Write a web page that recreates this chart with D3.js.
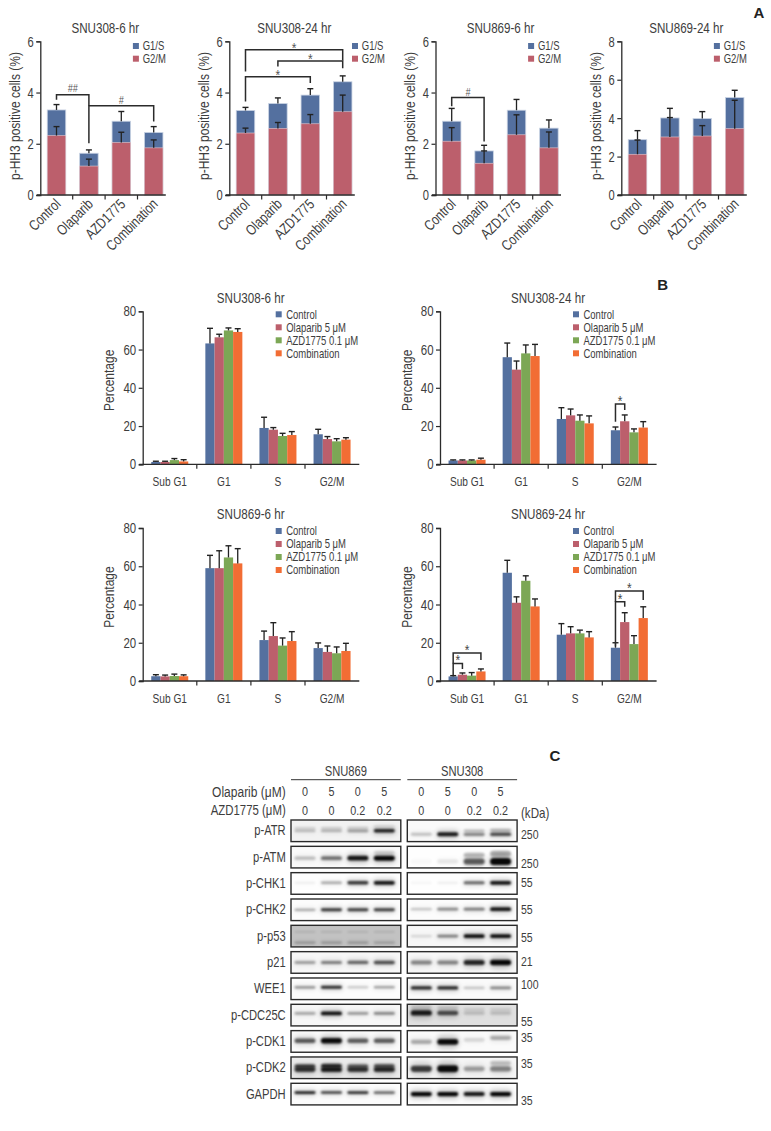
<!DOCTYPE html>
<html><head><meta charset="utf-8">
<script src="https://cdn.jsdelivr.net/npm/d3@7/dist/d3.min.js"></script>
<style>
html,body{margin:0;background:#fff}
svg{display:block}
text{font-family:"Liberation Sans",sans-serif}
</style></head><body>
<svg id="c" width="771" height="1131"></svg>
<script>
// ---------- Panel A data ----------
const aCategories = ["Control","Olaparib","AZD1775","Combination"];
const aLegend = ["G1/S","G2/M"];
const a308_6_g2m = [2.32,1.13,2.05,1.84];
const a308_6_g2mErr = [2.67,1.40,2.45,2.15];
const a308_6_total = [3.32,1.63,2.88,2.44];
const a308_6_totalErr = [3.53,1.76,3.26,2.67];
const a308_24_g2m = [2.42,2.60,2.78,3.25];
const a308_24_g2mErr = [2.61,2.83,3.14,3.90];
const a308_24_total = [3.30,3.57,3.90,4.42];
const a308_24_totalErr = [3.42,3.79,4.15,4.65];
const a869_6_g2m = [2.10,1.24,2.35,1.84];
const a869_6_g2mErr = [2.63,1.72,3.13,2.46];
const a869_6_total = [2.88,1.72,3.31,2.61];
const a869_6_totalErr = [3.38,1.94,3.73,2.93];
const a869_24_g2m = [2.12,3.02,3.07,3.45];
const a869_24_g2mErr = [2.86,4.03,3.61,4.93];
const a869_24_total = [2.88,4.01,3.98,5.07];
const a869_24_totalErr = [3.35,4.51,4.34,5.45];
// [from cat, to cat, top, left leg bottom, right leg bottom, label, label value]
const a308_6_sig = [[0,1,3.91,3.72,3.48,"##",4.16],[1,3,3.48,2.02,2.87,"#",3.72]];
const a308_24_sig = [[0,3,5.67,4.82,5.25,"*",5.76],[1,3,5.23,5.02,4.95,"*",5.33],[0,2,4.62,3.65,4.37,"*",4.71]];
const a869_6_sig = [[0,1,3.81,3.46,2.09,"#",4.02]];
// ---------- Panel B data ----------
const bCategories = ["Sub G1","G1","S","G2/M"];
const bLegend = ["Control","Olaparib 5 μM","AZD1775 0.1 μM","Combination"];
const b308_6_control = [1.2,63.2,19.0,15.7];
const b308_6_olaparib = [1.2,66.4,18.1,13.2];
const b308_6_azd = [2.2,70.0,14.8,12.0];
const b308_6_combo = [1.5,69.2,15.3,12.9];
const b308_6_controlErr = [1.6,71.1,24.6,18.3];
const b308_6_olaparibErr = [1.6,68.0,19.2,14.5];
const b308_6_azdErr = [3.0,71.3,16.2,13.4];
const b308_6_comboErr = [2.4,70.9,17.1,13.9];
const b308_24_control = [2.0,56.0,23.7,17.8];
const b308_24_olaparib = [2.0,49.5,25.6,22.5];
const b308_24_azd = [2.0,58.0,22.8,16.7];
const b308_24_combo = [2.4,56.6,21.4,19.2];
const b308_24_controlErr = [2.3,63.4,29.6,19.5];
const b308_24_olaparibErr = [2.3,54.0,28.9,25.8];
const b308_24_azdErr = [2.3,62.4,25.8,18.5];
const b308_24_comboErr = [3.2,62.7,25.3,22.3];
const b869_6_control = [2.5,59.0,21.4,17.2];
const b869_6_olaparib = [2.4,59.0,23.5,15.2];
const b869_6_azd = [2.6,64.6,18.5,14.5];
const b869_6_combo = [2.5,61.5,20.9,15.7];
const b869_6_controlErr = [3.3,65.7,26.1,19.9];
const b869_6_olaparibErr = [3.1,68.1,30.5,18.3];
const b869_6_azdErr = [3.6,70.7,22.5,17.8];
const b869_6_comboErr = [3.2,69.2,25.8,19.7];
const b869_24_control = [2.4,56.6,24.2,17.4];
const b869_24_olaparib = [3.3,40.9,24.9,30.8];
const b869_24_azd = [2.8,52.4,24.9,19.3];
const b869_24_combo = [5.0,39.0,22.8,32.9];
const b869_24_controlErr = [2.8,63.1,30.0,20.0];
const b869_24_olaparibErr = [4.2,44.0,28.4,35.7];
const b869_24_azdErr = [4.4,55.0,26.6,23.7];
const b869_24_comboErr = [6.3,42.9,25.8,38.8];
// [category, from series, to series, top, left bottom, right bottom, label value]
const b308_24_sig = [[3,0,1,31.5,22.3,28.4,33.2]];
const b869_24_sig = [[0,0,1,9.2,3.1,6.3,10.9],[0,0,3,14.6,9.2,11.0,16.3],[3,0,1,41.5,18,38.8,43.2],[3,0,3,47,41.5,42.3,48.7]];
// ---------- Panel C data (band darkness per lane, read by eye) ----------
const cCellLines = ["SNU869","SNU308"];
const cOlaparib = ["0","5","0","5"];
const cAzd = ["0","0","0.2","0.2"];
const cProteins = ["p-ATR","p-ATM","p-CHK1","p-CHK2","p-p53","p21","WEE1","p-CDC25C","p-CDK1","p-CDK2","GAPDH"];
const cKda = ["250","250","55","55","55","21","100","55","35","35","35"];
const cLeftDark = [[.22,.25,.33,.85],[.22,.5,.9,.97],[.05,.3,.75,.9],[.3,.75,.72,.72],[.22,.22,.22,.18],[.32,.45,.55,.65],[.42,.8,.2,.38],[.3,.92,.35,.42],[.6,.95,.58,.58],[.75,.85,.75,.8],[.85,.72,.78,.62]];
const cRightDark = [[.2,.88,.42,.65],[.02,.08,.6,.97],[.03,.05,.55,.9],[.2,.42,.48,.9],[.12,.45,.92,.92],[.42,.42,.82,.97],[.82,.82,.2,.42],[.88,.65,.15,.15],[.28,.95,.12,.28],[.72,.95,.32,.42],[.97,.97,.88,.97]];
const cLeftUpper = [[.12,.14,.14,.08],[0,0,0,.12],[0,0,0,0],[0,0,0,0],[.1,.1,.1,.1],[0,0,0,0],[0,0,0,0],[0,0,0,0],[0,0,0,0],[.7,.8,.55,.6],[0,0,0,0]];
const cRightUpper = [[0,0,.22,.25],[0,0,.25,.3],[0,0,0,0],[0,0,0,0],[0,0,0,0],[0,0,0,0],[0,0,0,0],[.1,.1,.1,.1],[0,0,0,0],[0,0,0,.2],[0,0,0,0]];
// ---------- Layout / style (not data) ----------
const colBlue="#54709f", colRed="#bc5f6c", colGreen="#7ca755", colOrange="#f26d34", ink="#2b2b2b", soft="#3d3d3d";
const CONDENSE=0.8;
const svg=d3.select("#c");
const f=(s,size,extra={})=>{Object.entries({"font-size":size,...extra}).forEach(([k,v])=>s.attr(k,v));return s;};

function axes(g,x,y,ticks,endX,left,tickFont,tickC){
  const [y0]=y.range();
  const ya=d3.axisLeft(y).tickValues(ticks).tickFormat(d3.format("d")).tickSize(4).tickPadding(2.5);
  const gy=g.append("g").attr("transform",`translate(${left},0)`).call(ya);
  gy.select(".domain").attr("stroke",ink).attr("stroke-width",1.3);
  gy.selectAll("line").attr("stroke",ink).attr("stroke-width",1.2);
  gy.selectAll("text").attr("font-size",tickFont).attr("fill",soft).attr("font-family",null).attr("data-c",tickC);
  const gx=g.append("g").attr("transform",`translate(0,${y0})`);
  gx.append("line").attr("x1",left-3.5).attr("x2",endX).attr("stroke",ink).attr("stroke-width",1.3);
  x.domain().slice(1).forEach(c=>gx.append("line").attr("x1",x(c)).attr("x2",x(c)).attr("y2",4.5).attr("stroke",ink).attr("stroke-width",1.2));
}
function errBar(g,cx,yFrom,yTo,cap){
  g.append("line").attr("x1",cx).attr("x2",cx).attr("y1",yFrom).attr("y2",yTo).attr("stroke","#222").attr("stroke-width",1.3);
  g.append("line").attr("x1",cx-cap).attr("x2",cx+cap).attr("y1",yTo).attr("y2",yTo).attr("stroke","#222").attr("stroke-width",1.4);
}
function bracket(g,xl,xr,yTop,yL,yR,sw=1.5){
  g.append("path").attr("d",d3.line()([[xl,yL],[xl,yTop],[xr,yTop],[xr,yR]])).attr("fill","none").attr("stroke",ink).attr("stroke-width",sw);
}
function chartA(opt){
  const g=svg.append("g");
  const x=d3.scaleBand().domain(aCategories).range([opt.left,opt.left+4*32.4]);
  const y=d3.scaleLinear().domain([0,opt.max]).range([195,41.3]);
  const w=18.5;
  const bx=c=>x(c)+x.bandwidth()/2;
  aCategories.forEach((c,i)=>{
    g.append("rect").attr("x",bx(c)-w/2).attr("width",w).attr("y",y(opt.total[i])).attr("height",y(0)-y(opt.total[i])).attr("fill",colBlue).attr("stroke","#c9d3e3").attr("stroke-width",.8);
    g.append("rect").attr("x",bx(c)-w/2).attr("width",w).attr("y",y(opt.g2m[i])).attr("height",y(0)-y(opt.g2m[i])).attr("fill",colRed).attr("stroke","#e3c9cf").attr("stroke-width",.6);
    errBar(g,bx(c),y(opt.total[i]),y(opt.totalErr[i]),3);
    errBar(g,bx(c),y(opt.g2m[i]),y(opt.g2mErr[i]),3);
  });
  axes(g,x,y,opt.ticks,opt.left+125.5,opt.left,15.5,.72);
  aCategories.forEach(c=>{
    f(g.append("text").attr("text-anchor","end").attr("transform",`translate(${bx(c)+5},205) rotate(-45)`).text(c),14.7,{fill:soft});
  });
  f(g.append("text").attr("text-anchor","middle").attr("transform",`translate(${opt.left-26},116) rotate(-90)`).attr("dy","0.35em").text("p-HH3 positive cells (%)"),15,{fill:soft});
  f(g.append("text").attr("text-anchor","middle").attr("x",opt.left+65).attr("y",33).text(opt.title),14.5,{fill:soft});
  aLegend.forEach((t,i)=>{
    const ly=46+i*12.7, lx=opt.left+(opt.legendDx||92.6);
    g.append("rect").attr("x",lx).attr("y",ly-3).attr("width",6).attr("height",6).attr("fill",i?colRed:colBlue);
    f(g.append("text").attr("x",lx+9.8).attr("y",ly).attr("dy","0.35em").text(t),12.5,{fill:soft,"data-c":.76});
  });
  (opt.sig||[]).forEach(s=>{
    const xl=bx(aCategories[s[0]]),xr=bx(aCategories[s[1]]);
    bracket(g,xl,xr,y(s[2]),y(s[3]),y(s[4]));
    f(g.append("text").attr("text-anchor","middle").attr("x",(xl+xr)/2).attr("y",y(s[6])).attr("dy","0.35em").text(s[5]),s[5]==="*"?15:11,{"font-style":s[5]==="*"?"normal":"italic",fill:"#555"});
  });
}
function chartB(opt){
  const g=svg.append("g");
  const x=d3.scaleBand().domain(bCategories).range([opt.left,opt.left+4*54.1]);
  const y=d3.scaleLinear().domain([0,80]).range([opt.y0,opt.y0-153]);
  const sub=d3.scaleBand().domain(d3.range(4)).range([0,37]);
  const xs=(c,s)=>x(c)+(x.bandwidth()-37)/2+sub(s);
  const cols=[colBlue,colRed,colGreen,colOrange];
  opt.vals.forEach((vals,s)=>{
    bCategories.forEach((c,i)=>{
      g.append("rect").attr("x",xs(c,s)).attr("width",sub.bandwidth()).attr("y",y(vals[i])).attr("height",y(0)-y(vals[i])).attr("fill",cols[s]);
      errBar(g,xs(c,s)+sub.bandwidth()/2,y(vals[i]),y(opt.errs[s][i]),3);
    });
  });
  axes(g,x,y,[0,20,40,60,80],opt.left+216.6,opt.left,14.5,.79);
  bCategories.forEach(c=>{
    f(g.append("text").attr("text-anchor","middle").attr("x",x(c)+x.bandwidth()/2).attr("y",opt.y0+17.5).attr("dy","0.35em").text(c),13,{fill:soft,"data-c":.78});
  });
  f(g.append("text").attr("text-anchor","middle").attr("transform",`translate(${opt.left-33.5},${opt.y0-84}) rotate(-90)`).attr("dy","0.35em").text("Percentage"),15,{fill:soft});
  f(g.append("text").attr("text-anchor","middle").attr("x",opt.left+108).attr("y",opt.y0-161.5).text(opt.title),14.5,{fill:soft});
  bLegend.forEach((t,i)=>{
    const ly=opt.y0-150+i*13;
    g.append("rect").attr("x",opt.left+133).attr("y",ly-3).attr("width",6).attr("height",6).attr("fill",cols[i]);
    f(g.append("text").attr("x",opt.left+143.5).attr("y",ly).attr("dy","0.35em").text(t),12.5,{fill:soft,"data-c":.76});
  });
  (opt.sig||[]).forEach(s=>{
    const c=bCategories[s[0]];
    const xl=xs(c,s[1])+sub.bandwidth()/2, xr=xs(c,s[2])+sub.bandwidth()/2;
    bracket(g,xl,xr,y(s[3]),y(s[4]),y(s[5]));
    f(g.append("text").attr("text-anchor","middle").attr("x",(xl+xr)/2).attr("y",y(s[6])).attr("dy","0.35em").text("*"),15,{fill:"#444"});
  });
}
chartA({left:40.3,max:6,ticks:[0,2,4,6],title:"SNU308-6 hr",g2m:a308_6_g2m,g2mErr:a308_6_g2mErr,total:a308_6_total,totalErr:a308_6_totalErr,sig:a308_6_sig});
chartA({left:229.3,max:6,ticks:[0,2,4,6],title:"SNU308-24 hr",legendDx:122.7,g2m:a308_24_g2m,g2mErr:a308_24_g2mErr,total:a308_24_total,totalErr:a308_24_totalErr,sig:a308_24_sig});
chartA({left:435.5,max:6,ticks:[0,2,4,6],title:"SNU869-6 hr",g2m:a869_6_g2m,g2mErr:a869_6_g2mErr,total:a869_6_total,totalErr:a869_6_totalErr,sig:a869_6_sig});
chartA({left:621.3,max:8,ticks:[0,2,4,6,8],title:"SNU869-24 hr",g2m:a869_24_g2m,g2mErr:a869_24_g2mErr,total:a869_24_total,totalErr:a869_24_totalErr});
chartB({left:142.7,y0:464.3,title:"SNU308-6 hr",vals:[b308_6_control,b308_6_olaparib,b308_6_azd,b308_6_combo],errs:[b308_6_controlErr,b308_6_olaparibErr,b308_6_azdErr,b308_6_comboErr]});
chartB({left:440,y0:464.3,title:"SNU308-24 hr",vals:[b308_24_control,b308_24_olaparib,b308_24_azd,b308_24_combo],errs:[b308_24_controlErr,b308_24_olaparibErr,b308_24_azdErr,b308_24_comboErr],sig:b308_24_sig});
chartB({left:142.7,y0:681,title:"SNU869-6 hr",vals:[b869_6_control,b869_6_olaparib,b869_6_azd,b869_6_combo],errs:[b869_6_controlErr,b869_6_olaparibErr,b869_6_azdErr,b869_6_comboErr]});
chartB({left:440,y0:681,title:"SNU869-24 hr",vals:[b869_24_control,b869_24_olaparib,b869_24_azd,b869_24_combo],errs:[b869_24_controlErr,b869_24_olaparibErr,b869_24_azdErr,b869_24_comboErr],sig:b869_24_sig});

// panel letters
[["A",759,13],["B",662.7,285],["C",555,755.7]].forEach(d=>{
  f(svg.append("text").attr("text-anchor","middle").attr("x",d[1]).attr("y",d[2]).attr("dy","0.35em").attr("class","nocond").text(d[0]),15,{"font-weight":"bold",fill:"#222"});
});

// ---------- Panel C: blots ----------
const defs=svg.append("defs");
[["b1",1.0],["b2",2.4]].forEach(d=>defs.append("filter").attr("id",d[0]).attr("x","-40%").attr("y","-150%").attr("width","180%").attr("height","400%").append("feGaussianBlur").attr("stdDeviation",d[1]));
const rowY=d3.scalePoint().domain(cProteins).range([820,1083.3]);
const sideX=[291,407.3], boxW=109.8, boxH=21.6;
const laneX=d3.scalePoint().domain(d3.range(4)).range([14,93.3]);
const bandCy=[[.5,.66],[.55,.7],[.47,.47],[.5,.47],[.8,.5],[.5,.5],[.43,.46],[.42,.4],[.47,.52],[.58,.55],[.43,.5]];
const bandThick=[[3.5,4],[4.5,6.5],[3.5,3.5],[3,3.5],[3,3.5],[3.8,5],[2.8,3.2],[3.5,5],[5,5.5],[5,6.5],[2.6,3.8]];
const bgDark=[[.05,.02],[.02,.005],[.005,.005],[.01,.01],[.24,.03],[.03,.03],[.01,.02],[.03,.12],[.02,.02],[.08,.04],[.01,.01]];
const rightShift=[0,0,0,0,0,0,0,0,[0,0,-2,-4],0,0];
cProteins.forEach((p,r)=>{
  [cLeftDark,cRightDark].forEach((arr,side)=>{
    const bx=sideX[side],by=rowY(p);
    const id=`cl${r}_${side}`;
    defs.append("clipPath").attr("id",id).append("rect").attr("x",bx).attr("y",by).attr("width",boxW).attr("height",boxH);
    const g=svg.append("g").attr("clip-path",`url(#${id})`);
    g.append("rect").attr("x",bx).attr("y",by).attr("width",boxW).attr("height",boxH).attr("fill","#000").attr("opacity",bgDark[r][side]);
    const upper=(side?cRightUpper:cLeftUpper)[r];
    arr[r].forEach((d,l)=>{
      const sh=side&&rightShift[r]?rightShift[r][l]:0;
      const cx=bx+laneX(l), cy=by+boxH*bandCy[r][side]+sh, t=bandThick[r][side]*(.6+.5*d);
      const w=21;
      g.append("rect").attr("x",cx-w/2-1).attr("width",w+2).attr("y",cy-t*1.1).attr("height",t*2.2).attr("rx",t).attr("fill","#000").attr("opacity",d*.22).attr("filter","url(#b2)");
      g.append("rect").attr("x",cx-w/2).attr("width",w).attr("y",cy-t/2).attr("height",t).attr("rx",t/2).attr("fill","#000").attr("opacity",d).attr("filter","url(#b1)");
      if(upper[l]>0){
        const uy=r===9&&side===0?cy-t*.7:(r===4&&side===0?by+boxH*.3:cy-t*1.1);
        g.append("rect").attr("x",cx-w/2).attr("width",w).attr("y",uy-t*.4).attr("height",t*.8).attr("rx",t/2).attr("fill","#000").attr("opacity",upper[l]).attr("filter","url(#b1)");
      }
    });
    svg.append("rect").attr("x",bx).attr("y",by).attr("width",boxW).attr("height",boxH).attr("fill","none").attr("stroke","#2a2a2a").attr("stroke-width",1.4);
  });
  f(svg.append("text").attr("text-anchor","end").attr("x",285.7).attr("y",rowY(p)+10.5).attr("dy","0.35em").text(p),14,{fill:soft});
});
const kdaY=[834,863,882.7,909,937.3,961.7,984.3,1021,1037.3,1063.3,1100.7];
cKda.forEach((k,i)=>f(svg.append("text").attr("x",521).attr("y",kdaY[i]).attr("dy","0.35em").text(k),13.5,{fill:soft,"data-c":.78}));
f(svg.append("text").attr("x",521).attr("y",812.7).attr("dy","0.35em").text("(kDa)"),14.5,{fill:soft});
cCellLines.forEach((c,i)=>{
  const lx=sideX[i];
  svg.append("line").attr("x1",lx).attr("x2",lx+boxW).attr("y1",779.7).attr("y2",779.7).attr("stroke","#333").attr("stroke-width",1);
  f(svg.append("text").attr("text-anchor","middle").attr("x",lx+boxW/2).attr("y",771).attr("dy","0.35em").text(c),14,{fill:soft});
  cOlaparib.forEach((v,l)=>{
    f(svg.append("text").attr("text-anchor","middle").attr("x",lx+laneX(l)).attr("y",791.7).attr("dy","0.35em").text(v),13.5,{fill:soft});
    f(svg.append("text").attr("text-anchor","middle").attr("x",lx+laneX(l)).attr("y",810).attr("dy","0.35em").text(cAzd[l]),13.5,{fill:soft});
  });
});
f(svg.append("text").attr("text-anchor","end").attr("x",285.7).attr("y",791.7).attr("dy","0.35em").text("Olaparib (μM)"),15,{fill:soft});
f(svg.append("text").attr("text-anchor","end").attr("x",285.7).attr("y",810).attr("dy","0.35em").text("AZD1775 (μM)"),15,{fill:soft,"data-c":.76});
// condensed look: the source face is a narrow sans; squeeze each text around its own anchor
svg.selectAll("text:not(.nocond)").each(function(){
  const s=d3.select(this), tx=+s.attr("x")||0, old=s.attr("transform")||"", k=+s.attr("data-c")||CONDENSE;
  s.attr("transform",`${old} translate(${tx} 0) scale(${k} 1) translate(${-tx} 0)`);
});
</script>
</body></html>
